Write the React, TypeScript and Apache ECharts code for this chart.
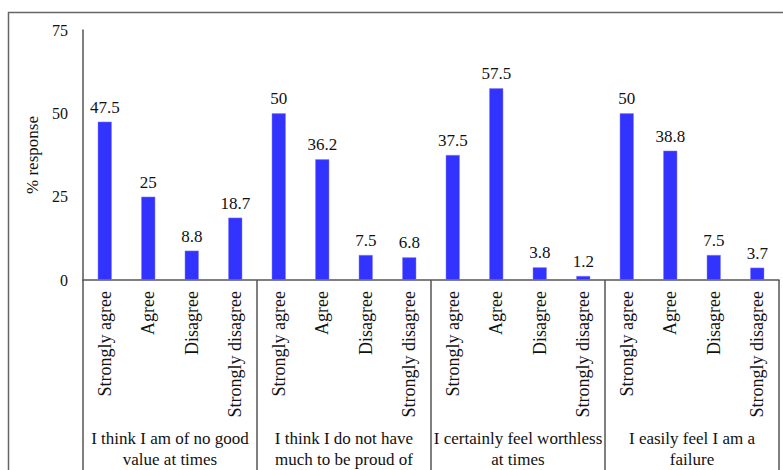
import React, { useEffect, useRef } from "react";
import * as echarts from "echarts";

const responses = ["Strongly agree", "Agree", "Disagree", "Strongly disagree"];
const groups = [
  "I think I am of no good\nvalue at times",
  "I think I do not have\nmuch to be proud of",
  "I certainly feel worthless\nat times",
  "I easily feel I am a\nfailure",
];
const group1 = [47.5, 25, 8.8, 18.7];
const group2 = [50, 36.2, 7.5, 6.8];
const group3 = [37.5, 57.5, 3.8, 1.2];
const group4 = [50, 38.8, 7.5, 3.7];
const yTicks = { min: 0, max: 75, interval: 25 };

const FONT = "'Liberation Serif', 'Times New Roman', Times, serif";

export default function App() {
  const ref = useRef<HTMLDivElement>(null);
  useEffect(() => {
    document.body.style.margin = "0";
    const chart = echarts.init(ref.current!, null, { renderer: "svg" });
    const cats: string[] = [];
    groups.forEach(() => responses.forEach((r) => cats.push(r)));
    const values = [...group1, ...group2, ...group3, ...group4];
    chart.setOption({
      animation: false,
      backgroundColor: "#fff",
      textStyle: { fontFamily: FONT, color: "#111" },
      graphic: [
        {
          type: "rect",
          shape: { x: 8.5, y: 12.5, width: 900, height: 600 },
          style: { fill: "none", stroke: "#666", lineWidth: 1.5 },
          silent: true,
        },
      ],
      grid: { left: 83, right: 4, top: 30, bottom: 190, containLabel: false },
      xAxis: [
        {
          type: "category",
          data: cats,
          position: "bottom",
          axisLine: { show: true, lineStyle: { color: "#555", width: 1.5 } },
          axisTick: { show: false },
          axisLabel: {
            interval: 0,
            rotate: 90,
            margin: 11,
            fontFamily: FONT,
            fontSize: 18,
            color: "#111",
          },
        },
        {
          type: "category",
          data: groups,
          position: "bottom",
          axisLine: { show: false },
          axisTick: {
            show: true,
            length: 200,
            lineStyle: { color: "#555", width: 1.5 },
          },
          axisLabel: {
            interval: 0,
            margin: 148,
            fontFamily: FONT,
            fontSize: 17,
            lineHeight: 21,
            color: "#111",
          },
        },
      ],
      yAxis: {
        type: "value",
        min: yTicks.min,
        max: yTicks.max,
        interval: yTicks.interval,
        name: "% response",
        nameLocation: "middle",
        nameRotate: 90,
        nameGap: 38,
        nameTextStyle: { fontFamily: FONT, fontSize: 17, color: "#111" },
        axisLine: { show: true, lineStyle: { color: "#555", width: 1.5 } },
        axisTick: { show: false },
        splitLine: { show: false },
        axisLabel: { margin: 15, fontFamily: FONT, fontSize: 16, color: "#111" },
      },
      series: [
        {
          type: "bar",
          xAxisIndex: 0,
          data: values,
          barWidth: 14,
          itemStyle: { color: "#3333ff", borderColor: "#8080ff", borderWidth: 0.5 },
          label: {
            show: true,
            position: "top",
            distance: 6,
            fontFamily: FONT,
            fontSize: 17,
            color: "#111",
          },
        },
      ],
    });
    return () => chart.dispose();
  }, []);
  return <div ref={ref} style={{ width: 783, height: 470 }} />;
}
